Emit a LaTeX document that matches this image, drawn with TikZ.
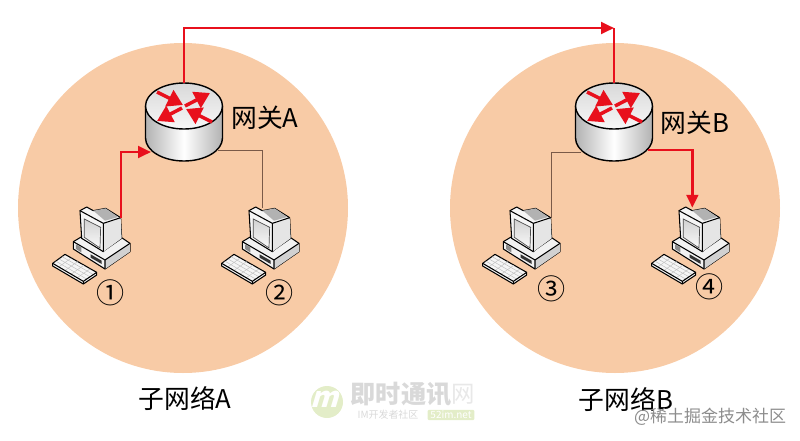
\documentclass[tikz,border=0pt]{standalone}
\usepackage{fontspec}
\setmainfont{Noto Sans CJK SC}
\usetikzlibrary{arrows.meta}
\definecolor{netfill}{HTML}{F8CBA6}
\definecolor{linkred}{HTML}{E8101C}
\definecolor{linkbrown}{HTML}{7A5A48}
\definecolor{markgray}{HTML}{D9D9D9}
\definecolor{markgreen}{HTML}{E3EDC8}
\tikzset{
  redlink/.style={draw=linkred,line width=2.3pt},
  redtip/.style={-{Triangle[length=11pt,width=10pt]}},
  routerarrow/.style={linkred,line width=3pt,-{Triangle[length=13pt,width=15pt]}},
  graylink/.style={draw=linkbrown,line width=0.6pt},
  netlabel/.style={font=\fontsize{22}{26}\selectfont,inner sep=0pt},
  digit/.style={font=\fontsize{24}{28}\selectfont,inner sep=0pt},
  outline/.style={draw=black,line width=0.9pt,line join=round},
  pics/router/.style={code={
    \shade[left color=black!30,right color=black!30,middle color=white] (-38.5,0) -- (-38.5,32) arc[start angle=180,end angle=360,x radius=38.5,y radius=-23] -- (38.5,0) -- cycle;
    \draw[outline,line width=1.2pt] (-38.5,0) -- (-38.5,32) arc[start angle=180,end angle=360,x radius=38.5,y radius=-23] -- (38.5,0);
    \shade[outline,line width=1.2pt,top color=black!15,bottom color=black!3] (0,0) ellipse[x radius=38.5,y radius=23];
    \draw[routerarrow] (-27,-14) -- (-1,-1);
    \draw[routerarrow] (1,0) -- (26,-13);
    \draw[routerarrow] (-2,2) -- (-27,15);
    \draw[routerarrow] (28,16) -- (2,3);
    \coordinate (-top) at (0,-23);
    \coordinate (-left) at (-33,46);
    \coordinate (-right) at (34,44);
  }},
  pics/computer/.style={code={
    \begin{scope}[scale=1/3]
    % base
    \filldraw[outline,fill=black!5] (100,140) -- (125,125) -- (190,165) -- (245,128) -- (270,145) -- (270,170) -- (195,222) -- (100,162) -- cycle;
    \fill[black!18] (195,195) -- (270,145) -- (270,170) -- (195,222) -- cycle;
    \draw[outline] (100,140) -- (195,195) -- (270,145) (195,195) -- (195,222);
    \fill[black!45] (108,148) -- (124,157) -- (124,172) -- (108,162) -- cycle;
    \fill[black!80] (152,178) -- (185,197) -- (185,207) -- (152,188) -- cycle;
    % monitor
    \filldraw[outline,fill=black!4] (120,47) -- (140,36) -- (160,47) -- (197,40) -- (242,68) -- (245,130) -- (195,165) -- (190,170) -- (125,130) -- cycle;
    \fill[black!10] (190,85) -- (242,68) -- (245,130) -- (190,170) -- cycle;
    \draw[outline] (120,47) -- (190,85) -- (242,68) (190,85) -- (190,170);
    \fill[black!30] (160,47) -- (197,40) -- (235,66) -- (195,77) -- cycle;
    \shade[draw=black!70,line width=0.6pt,top color=black!18,bottom color=black!2] (133,72) -- (182,97) -- (180,159) -- (133,127) -- cycle;
    % keyboard
    \filldraw[outline,fill=black!4] (38,205) -- (75,178) -- (170,232) -- (170,240) -- (130,267) -- (38,213) -- cycle;
    \foreach \t in {0.2,0.4,0.6,0.8}
      \draw[black!25,line width=0.4pt] ({38+92*\t},{205+54*\t}) -- ({75+95*\t},{178+54*\t});
    \foreach \t in {0.25,0.5,0.75}
      \draw[black!25,line width=0.4pt] ({38+37*\t},{205-27*\t}) -- ({130+40*\t},{259-27*\t});
    \draw[outline] (38,205) -- (130,259) -- (170,232) (130,259) -- (130,267);
    \coordinate (-corner) at (243,70);
    \coordinate (-mid) at (160,38);
    \end{scope}
  }}
}
\begin{document}
\begin{tikzpicture}[x=0.03cm,y=-0.03cm]
\useasboundingbox (0,0) rectangle (800,440);
\fill[netfill] (183,208) circle[radius=165];
\fill[netfill] (615,208) circle[radius=165];

\pic (routerA) at (184,106) {router};
\pic (routerB) at (614,106) {router};
\pic (pcOne) at (40,195) {computer};
\pic (pcTwo) at (209,195) {computer};
\pic (pcThree) at (470,195) {computer};
\pic (pcFour) at (639,195) {computer};

\coordinate (bend) at (614,28);
\draw[redlink,redtip] (routerA-top) |- (bend);
\draw[redlink] (bend) -- (routerB-top);
\draw[redlink,redtip] (pcOne-corner) |- (routerA-left);
\draw[graylink] (routerA-right) -| (pcTwo-mid);
\draw[graylink] (routerB-left) -| (pcThree-corner);
\draw[redlink,redtip] (routerB-right) -| (pcFour-mid);

\node[netlabel] (gatewayA) at (265,118) {网关A};
\node[netlabel] (gatewayB) at (695,123) {网关B};
\node[digit] (numOne) at (111,293) {①};
\node[digit] (numTwo) at (280,293) {②};
\node[digit] (numThree) at (552,289) {③};
\node[digit] (numFour) at (710,287) {④};
\node[netlabel] (subnetA) at (185,399) {子网络A};
\node[netlabel] (subnetB) at (626,400) {子网络B};

% watermarks
\fill[markgreen] (327,402) circle[radius=16];
\node[text=white,font=\bfseries\fontsize{24}{24}\selectfont,inner sep=0pt,xslant=0.3,transform shape] (logoM) at (327,399) {m};
\node[text=markgray,font=\bfseries\fontsize{21.5}{24}\selectfont,inner sep=0pt] (markName) at (401,394) {即时通讯};
\node[text=markgray!60,font=\fontsize{20}{24}\selectfont,inner sep=0pt] (markNet) at (463,394) {网};
\node[text=markgray,font=\fontsize{8.5}{10}\selectfont,inner sep=0pt] (markSub) at (388,415) {IM开发者社区};
\node[fill=markgreen,text=white,rounded corners=1pt,font=\fontsize{8.5}{10}\selectfont,inner sep=1pt,minimum width=40pt] (markUrl) at (451,415) {52im.net};
\node[text=black!45,font=\fontsize{14.5}{18}\selectfont,inner sep=0pt] (markJuejin) at (710,417) {@稀土掘金技术社区};
\end{tikzpicture}
\end{document}
